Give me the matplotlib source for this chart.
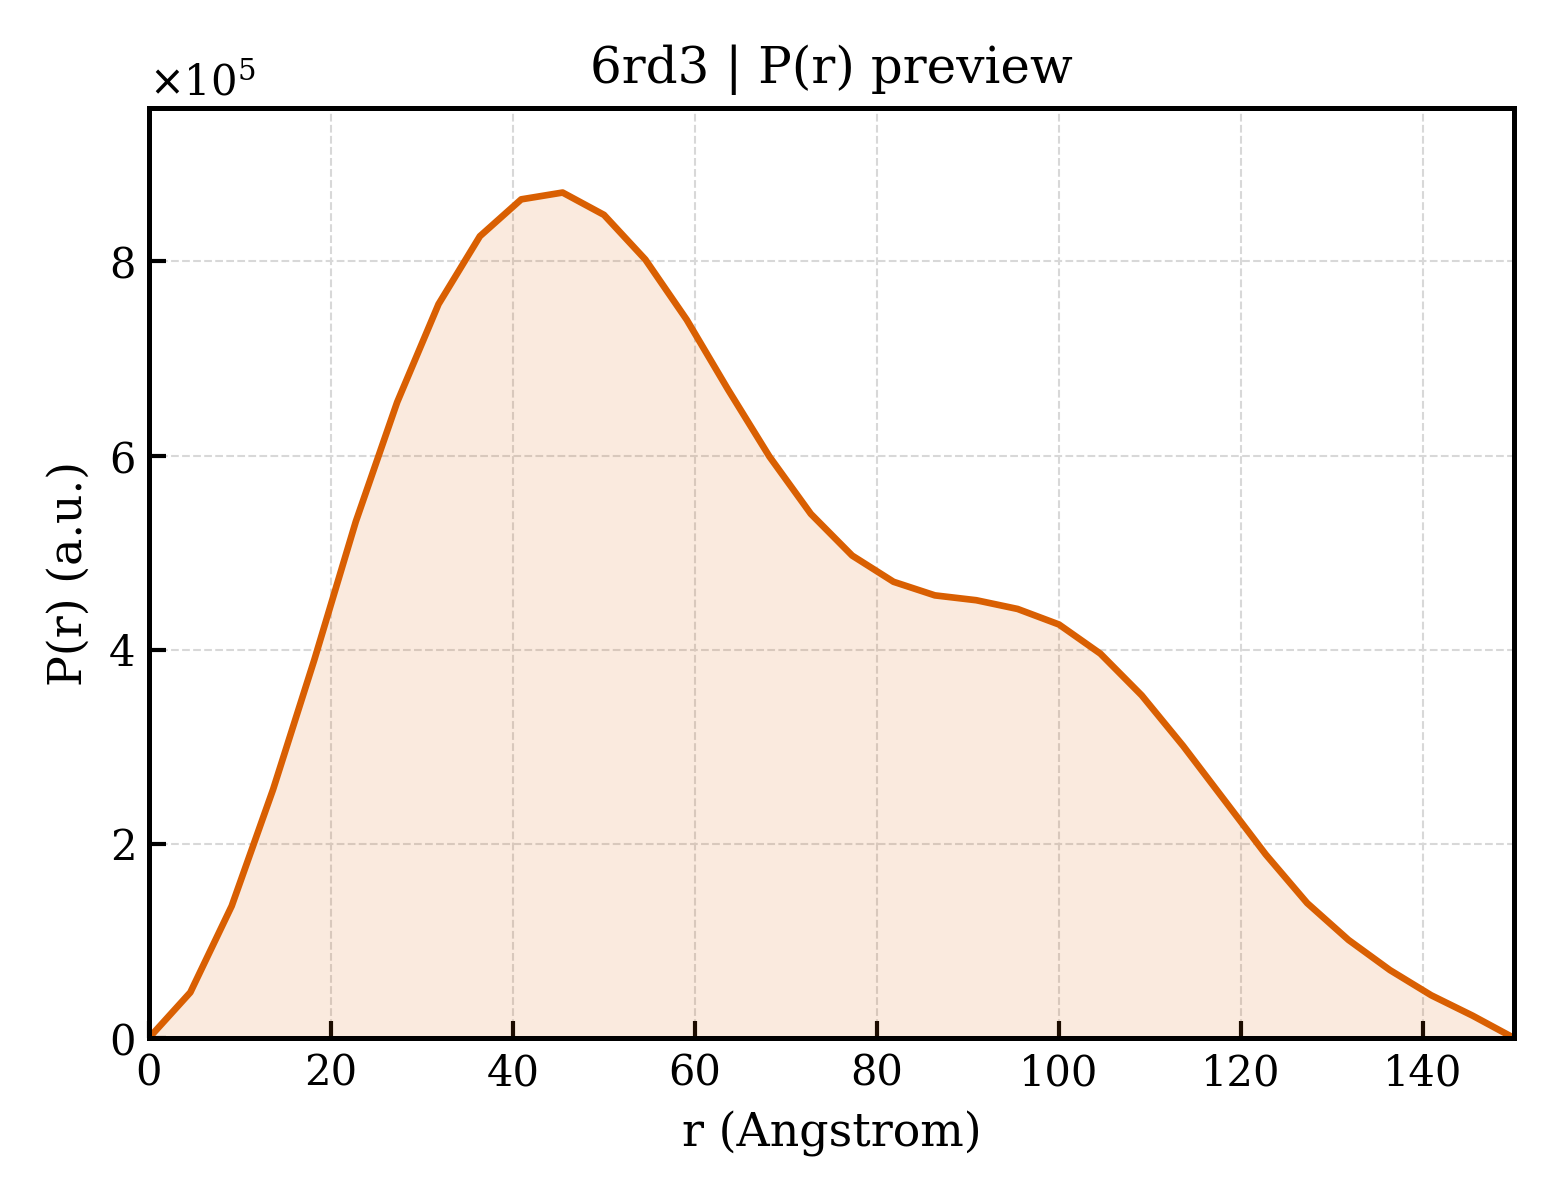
import numpy as np
import matplotlib
matplotlib.use("Agg")
import matplotlib.pyplot as plt

plt.rcParams['font.family'] = 'DejaVu Serif'

r = np.linspace(0, 150, 34)
pr = np.array([0.00, 0.47, 1.36, 2.56, 3.90, 5.32, 6.55, 7.56, 8.26, 8.64,
               8.71, 8.48, 8.02, 7.40, 6.68, 5.99, 5.40, 4.97, 4.70, 4.56,
               4.51, 4.42, 4.26, 3.96, 3.53, 3.01, 2.45, 1.89, 1.39, 1.01,
               0.70, 0.44, 0.23, 0.00]) * 1e5

title = "6rd3 | P(r) preview"
col = '#d95f02'

fig, ax = plt.subplots(figsize=(5.2, 4), dpi=300)
ax.plot(r, pr, color=col, lw=1.6)
ax.fill_between(r, pr, 0, color=col, alpha=0.13, lw=0)

ax.set_xlim(0, 150)
ax.set_ylim(0, pr.max() * 1.1)
ax.set_xticks(np.arange(0, 141, 20))
ax.ticklabel_format(axis='y', style='sci', scilimits=(0, 0), useMathText=True)
ax.tick_params(direction='in', length=4, width=1.0, labelsize=10)
for s in ax.spines.values():
    s.set_linewidth(1.2)
ax.grid(True, ls='--', lw=0.5, color='#d8d8d8')
ax.set_axisbelow(True)

ax.set_xlabel("r (Angstrom)", fontsize=11)
ax.set_ylabel("P(r) (a.u.)", fontsize=11)
ax.set_title(title, fontsize=12)
ax.yaxis.get_offset_text().set_fontsize(10)

plt.subplots_adjust(left=0.0955, right=0.9705, bottom=0.135, top=0.91)
plt.savefig("out.png", dpi=300)
